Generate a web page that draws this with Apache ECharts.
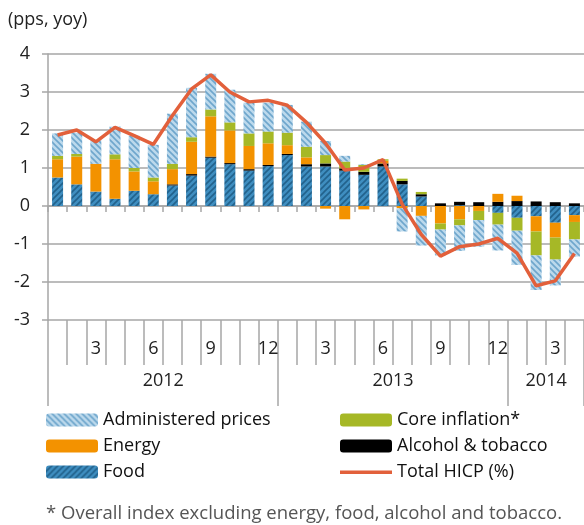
<!DOCTYPE html>
<html>
<head>
<meta charset="utf-8">
<script src="https://cdn.jsdelivr.net/npm/echarts@6/dist/echarts.min.js"></script>
<style>
  html, body { margin: 0; padding: 0; background: #fff; }
  #chart { width: 584px; height: 525px; }
</style>
</head>
<body>
<div id="chart"></div>
<script>
// months Jan 2012 .. Apr 2014
var years = ['2012', '2013', '2014'];
var monthsShown = [12, 12, 4];
var monthTickLabels = ['', '', '3', '', '', '6', '', '', '9', '', '', '12'];

var food = [0.75, 0.57, 0.38, 0.19, 0.40, 0.31, 0.54, 0.80, 1.27, 1.10, 0.93, 1.05,
            1.34, 1.04, 1.04, 0.93, 0.82, 1.04, 0.57, 0.25, 0.00, 0.02, 0.00, -0.18,
            -0.31, -0.27, -0.44, -0.24];
var alcohol = [0, 0, 0, 0, 0, 0, 0.03, 0.04, 0.03, 0.03, 0.04, 0.03,
               0.03, 0.06, 0.08, 0.06, 0.08, 0.08, 0.09, 0.06, 0.07, 0.09, 0.10, 0.11,
               0.13, 0.12, 0.10, 0.07];
var energy = [0.48, 0.73, 0.73, 1.04, 0.51, 0.34, 0.40, 0.85, 1.06, 0.86, 0.61, 0.57,
              0.23, 0.18, -0.07, -0.35, -0.09, 0.07, -0.06, -0.26, -0.46, -0.35, -0.13, 0.21,
              0.14, -0.40, -0.39, -0.18];
var core = [0.09, 0.07, 0, 0.13, 0.09, 0.10, 0.14, 0.12, 0.18, 0.21, 0.33, 0.31,
            0.33, 0.28, 0.22, 0.18, 0.18, 0.04, 0.06, 0.06, -0.16, -0.16, -0.24, -0.31,
            -0.34, -0.63, -0.58, -0.46];
var admin = [0.59, 0.56, 0.63, 0.73, 0.85, 0.86, 1.32, 1.30, 0.94, 0.86, 0.81, 0.76,
             0.73, 0.66, 0.37, 0.15, 0.02, 0, -0.61, -0.78, -0.68, -0.67, -0.70, -0.68,
             -0.90, -0.91, -0.68, -0.45];
var hicp = [1.87, 2.00, 1.69, 2.07, 1.85, 1.62, 2.38, 3.08, 3.45, 3.00, 2.74, 2.78,
            2.65, 2.20, 1.65, 0.95, 1.00, 1.22, 0.05, -0.75, -1.32, -1.07, -1.00, -0.85,
            -1.24, -2.10, -1.97, -1.25];

var categories = [], monthLabels = [], yearLabels = [];
years.forEach(function(y, yi) {
  for (var m = 0; m < monthsShown[yi]; m++) {
    categories.push(y + '-' + (m + 1));
    monthLabels.push(monthTickLabels[m]);
    yearLabels.push('');
  }
});
// year label sits on the middle of its (visible) span
yearLabels[5] = '2012';
yearLabels[17] = '2013';
yearLabels[25] = '2014';

function stripes(bg, fg, slash) {
  var c = document.createElement('canvas');
  c.width = 6; c.height = 6;
  var g = c.getContext('2d');
  g.fillStyle = bg;
  g.fillRect(0, 0, 6, 6);
  g.strokeStyle = fg;
  g.lineWidth = 1.6;
  g.beginPath();
  if (slash) {
    g.moveTo(-1, 7); g.lineTo(7, -1);
    g.moveTo(-1, 1); g.lineTo(1, -1);
    g.moveTo(5, 7); g.lineTo(7, 5);
  } else {
    g.moveTo(-1, -1); g.lineTo(7, 7);
    g.moveTo(5, -1); g.lineTo(7, 1);
    g.moveTo(-1, 5); g.lineTo(1, 7);
  }
  g.stroke();
  return { image: c, repeat: 'repeat' };
}

var FONT = 'Open Sans';
var gridColor = '#a6a6a6';
// plain line for the legend (no marker)
var lineIcon = 'path://M0,0L0.01,0L0.01,0.01ZM0,5L52,5L52,8.5L0,8.5ZM0,13L0.01,13L0.01,12.99Z';

var chart = echarts.init(document.getElementById('chart'), null, { renderer: 'canvas' });

var option = {
  animation: false,
  textStyle: { fontFamily: FONT },
  title: {
    text: '(pps, yoy)',
    left: 3, top: 6,
    textStyle: { fontFamily: FONT, fontSize: 18, fontWeight: 'normal', color: '#222' }
  },
  grid: { left: 48, top: 54, height: 266, width: 548 },
  legend: [
    {
      orient: 'vertical', left: 46, top: 411, padding: 0,
      itemWidth: 52, itemHeight: 13, itemGap: 8,
      textStyle: { fontFamily: FONT, fontSize: 18, color: '#111' },
      data: ['Administered prices', 'Energy', 'Food']
    },
    {
      orient: 'vertical', left: 340, top: 411, padding: 0,
      itemWidth: 52, itemHeight: 13, itemGap: 8,
      textStyle: { fontFamily: FONT, fontSize: 18, color: '#111' },
      data: ['Core inflation*', 'Alcohol & tobacco', { name: 'Total HICP (%)', icon: lineIcon }]
    }
  ],
  graphic: [{
    type: 'text', left: 46, top: 504,
    style: {
      text: '* Overall index excluding energy, food, alcohol and tobacco.',
      fontFamily: FONT, fontSize: 18.5, fill: '#555'
    }
  }],
  xAxis: [
    {
      type: 'category', data: categories,
      axisLine: { onZero: true, lineStyle: { color: gridColor, width: 1.5 } },
      axisTick: { show: true, length: 6, interval: 0, lineStyle: { color: gridColor, width: 1.5 } },
      axisLabel: { show: false }
    },
    {
      type: 'category', data: categories, position: 'bottom',
      axisLine: { show: false, onZero: false },
      axisTick: { show: true, length: 45, interval: 0, lineStyle: { color: gridColor, width: 1.5 } },
      axisLabel: {
        interval: 0, margin: 20, fontFamily: FONT, fontSize: 18, color: '#222',
        formatter: function(v, i) { return monthLabels[i]; }
      }
    },
    {
      type: 'category', data: categories, position: 'bottom',
      axisLine: { show: false, onZero: false },
      axisTick: {
        show: true, length: 86,
        interval: function(i) { return i % 12 === 0; },
        lineStyle: { color: gridColor, width: 1.5 }
      },
      axisLabel: {
        interval: 0, margin: 52, fontFamily: FONT, fontSize: 18, color: '#222',
        padding: [0, 0, 0, 20],
        formatter: function(v, i) { return yearLabels[i]; }
      }
    }
  ],
  yAxis: {
    type: 'value', min: -3, max: 4, interval: 1,
    axisLine: { show: true, lineStyle: { color: gridColor, width: 1.5 } },
    axisTick: { show: true, length: 6, lineStyle: { color: gridColor, width: 1.5 } },
    axisLabel: { margin: 18, fontFamily: FONT, fontSize: 18, color: '#222' },
    splitLine: { lineStyle: { color: gridColor, width: 1.5 } }
  },
  series: [
    {
      name: 'Food', type: 'bar', stack: 'hicp', barWidth: 11,
      itemStyle: { color: stripes('#3f8ec0', '#22628c', true) },
      data: food
    },
    {
      name: 'Alcohol & tobacco', type: 'bar', stack: 'hicp', barWidth: 11,
      itemStyle: { color: '#000' },
      data: alcohol
    },
    {
      name: 'Energy', type: 'bar', stack: 'hicp', barWidth: 11,
      itemStyle: { color: '#f39200' },
      data: energy
    },
    {
      name: 'Core inflation*', type: 'bar', stack: 'hicp', barWidth: 11,
      itemStyle: { color: '#a6b826' },
      data: core
    },
    {
      name: 'Administered prices', type: 'bar', stack: 'hicp', barWidth: 11,
      itemStyle: { color: stripes('#bcd9ec', '#6ea6cc', false) },
      data: admin
    },
    {
      name: 'Total HICP (%)', type: 'line', symbol: 'none', z: 5,
      lineStyle: { color: '#e2603b', width: 3.5 },
      itemStyle: { color: '#e2603b' },
      data: hicp
    }
  ]
};

chart.setOption(option);
</script>
</body>
</html>
